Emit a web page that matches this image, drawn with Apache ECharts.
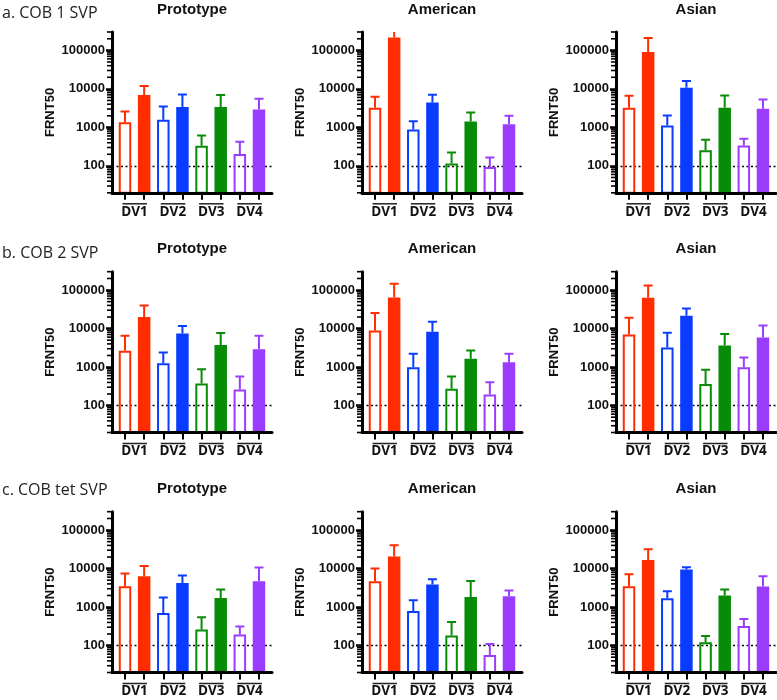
<!DOCTYPE html>
<html><head><meta charset="utf-8">
<script src="https://cdn.jsdelivr.net/npm/echarts@6/dist/echarts.min.js"></script>
<style>html,body{margin:0;padding:0;background:#fff}#c{width:777px;height:700px}</style>
</head><body><div id="c"></div>
<script>
// ---------- data ----------
const rowTitles = ['a. COB 1 SVP', 'b. COB 2 SVP', 'c. COB tet SVP'];
const colTitles = ['Prototype', 'American', 'Asian'];
const groupLabels = ['DV1', 'DV2', 'DV3', 'DV4'];
const yAxisName = 'FRNT50';
const yTickValues = [100, 1000, 10000, 100000];
const yMinorTickValues = [20,30,40,50,60,70,80,90,200,300,400,500,600,700,800,900,
  2000,3000,4000,5000,6000,7000,8000,9000,20000,30000,40000,50000,60000,70000,80000,90000,200000,300000];
const yMin = 20, yMax = 300000;
const thresholdValue = 100;
// bar order: DV1 hollow, DV1 filled, DV2 hollow, DV2 filled, ...
const cob1ProtoMean  = [1365, 6900, 1580, 3360, 332, 3360, 205, 2925];
const cob1ProtoUpper = [2590, 11800, 3500, 7190, 615, 6900, 422, 5560];
const cob1AmerMean   = [3240, 215000, 881, 4450, 115, 1425, 94, 1210];
const cob1AmerUpper  = [6270, 330000, 1450, 7060, 222, 2440, 164, 2000];
const cob1AsianMean  = [3240, 90800, 1120, 10700, 255, 3240, 338, 3050];
const cob1AsianUpper = [6650, 210000, 2040, 16000, 475, 6760, 505, 5330];
const cob2ProtoMean  = [2640, 19900, 1265, 7450, 373, 3720, 260, 2920];
const cob2ProtoUpper = [6480, 39800, 2390, 11600, 883, 7620, 567, 6480];
const cob2AmerMean   = [8900, 64200, 995, 8240, 272, 1640, 193, 1340];
const cob2AmerUpper  = [25200, 145000, 2210, 15000, 567, 2690, 405, 2210];
const cob2AsianMean  = [7010, 63000, 3220, 21500, 366, 3630, 995, 5860];
const cob2AsianUpper = [19000, 132000, 7760, 33200, 847, 7180, 1770, 12000];
const cobTetProtoMean  = [3480, 6320, 705, 4240, 260, 1730, 193, 4690];
const cobTetProtoUpper = [7410, 11700, 1765, 6580, 544, 2850, 312, 10600];
const cobTetAmerMean   = [4690, 20500, 795, 3840, 182, 1840, 57, 1910];
const cobTetAmerUpper  = [10000, 40400, 1500, 5280, 412, 4780, 110, 2680];
const cobTetAsianMean  = [3480, 16800, 1700, 9420, 122, 1990, 324, 3410];
const cobTetAsianUpper = [7130, 31800, 2580, 10800, 178, 2850, 493, 6320];

const panelMeans = [cob1ProtoMean, cob1AmerMean, cob1AsianMean, cob2ProtoMean, cob2AmerMean, cob2AsianMean, cobTetProtoMean, cobTetAmerMean, cobTetAsianMean];
const panelUppers = [cob1ProtoUpper, cob1AmerUpper, cob1AsianUpper, cob2ProtoUpper, cob2AmerUpper, cob2AsianUpper, cobTetProtoUpper, cobTetAmerUpper, cobTetAsianUpper];

// ---------- style / layout ----------
const colors = ['#FF2D00', '#0A3CFF', '#078C07', '#9A3DFF'];
const gridLeft = [112, 362, 616];
const gridTop = [32, 271.7, 511.7];
const rowLabelTop = [5, 245, 482];
const GW = 160, GH = 160.8;
const XMIN = -0.68, XMAX = 7.68;
const barSlots = [0,1,2,3,4,5,6,7];
const groupCenters = [0.5, 2.5, 4.5, 6.5];
const boldFont = 'Liberation Sans';

const option = { animation: false, backgroundColor: '#fff', title: [], grid: [], xAxis: [], yAxis: [], series: [] };

rowTitles.forEach((t, r) => {
  option.title.push({ text: t, left: 2, top: rowLabelTop[r], padding: 0,
    textStyle: { fontFamily: 'Open Sans', fontWeight: 'normal', fontSize: 16, color: '#222' } });
});

panelMeans.forEach((means, k) => {
  const r = Math.floor(k / 3), c = k % 3;
  const uppers = panelUppers[k];
  option.title.push({ text: colTitles[c], left: gridLeft[c] + GW / 2, top: gridTop[r] - 30, padding: 0, textAlign: 'center',
    textStyle: { fontFamily: boldFont, fontWeight: 'bold', fontSize: 15, color: '#111' } });
  option.grid.push({ left: gridLeft[c], top: gridTop[r], width: GW, height: GH, containLabel: false });
  const xi = option.xAxis.length, yi = option.yAxis.length;
  option.xAxis.push({ gridIndex: k, type: 'value', min: XMIN, max: XMAX, position: 'bottom', z: 3,
    axisLine: { onZero: false, lineStyle: { color: '#000', width: 3 } },
    axisTick: { customValues: barSlots, length: 7, lineStyle: { color: '#000', width: 2 } },
    axisLabel: { show: false }, splitLine: { show: false } });
  option.xAxis.push({ gridIndex: k, type: 'value', min: XMIN, max: XMAX, position: 'bottom',
    axisLine: { show: false, onZero: false }, axisTick: { show: false }, splitLine: { show: false },
    axisLabel: { customValues: groupCenters, margin: 12, formatter: v => groupLabels[Math.round((v - 0.5) / 2)],
      fontFamily: 'Open Sans', fontWeight: 'bold', fontSize: 13.5, color: '#111' } });
  option.yAxis.push({ gridIndex: k, type: 'log', logBase: 10, min: yMin, max: yMax, position: 'left', z: 3,
    name: yAxisName, nameLocation: 'middle', nameGap: 55, nameRotate: 90,
    nameTextStyle: { fontFamily: boldFont, fontWeight: 'bold', fontSize: 13, color: '#111' },
    axisLine: { onZero: false, lineStyle: { color: '#000', width: 3 } },
    axisTick: { customValues: yTickValues, length: 6, lineStyle: { color: '#000', width: 2.5 } },
    axisLabel: { customValues: yTickValues, margin: 7,
      formatter: v => (yTickValues.indexOf(Math.round(v)) >= 0 ? String(Math.round(v)) : ''),
      fontFamily: boldFont, fontWeight: 'bold', fontSize: 13, color: '#111' },
    splitLine: { show: false } });

  option.series.push({ type: 'bar', xAxisIndex: xi, yAxisIndex: yi, barWidth: 12.5, clip: true, z: 2, silent: true,
    data: means.map((v, i) => ({ value: [barSlots[i], v],
      itemStyle: i % 2 === 0
        ? { color: 'rgba(255,255,255,0)', borderColor: colors[Math.floor(i / 2)], borderWidth: 2 }
        : { color: colors[Math.floor(i / 2)] } })),
    markLine: { z: 1, silent: true, symbol: 'none', label: { show: false },
      lineStyle: { color: '#000', type: [2, 2.5], width: 1.4 }, data: [{ yAxis: thresholdValue }] } });

  // error bars (upper SD)
  option.series.push({ type: 'custom', xAxisIndex: xi, yAxisIndex: yi, clip: true, z: 3, silent: true,
    encode: { x: 0, y: [1, 2] },
    data: means.map((v, i) => [barSlots[i], v, uppers[i]]),
    renderItem: (params, api) => {
      const x = api.value(0);
      const p0 = api.coord([x, api.value(1)]);
      const p1 = api.coord([x, api.value(2)]);
      const col = colors[Math.floor(x / 2)];
      return { type: 'group', children: [
        { type: 'line', shape: { x1: p0[0], y1: p0[1], x2: p1[0], y2: p1[1] }, style: { stroke: col, lineWidth: 2 } },
        { type: 'line', shape: { x1: p1[0] - 4.5, y1: p1[1], x2: p1[0] + 4.5, y2: p1[1] }, style: { stroke: col, lineWidth: 2 } }
      ] };
    } });

  // minor log ticks on the y axis
  option.series.push({ type: 'custom', xAxisIndex: xi, yAxisIndex: yi, clip: false, silent: true, z: 4,
    encode: { x: 0, y: 1 },
    data: yMinorTickValues.map(v => [XMIN, v]),
    renderItem: (params, api) => {
      const p = api.coord([api.value(0), api.value(1)]);
      return { type: 'line', shape: { x1: p[0] - 5, y1: p[1], x2: p[0], y2: p[1] },
        style: { stroke: '#000', lineWidth: 1.6 } };
    } });

  // overline above each DV label
  option.series.push({ type: 'custom', xAxisIndex: xi, yAxisIndex: yi, clip: false, silent: true,
    encode: { x: 0, y: 1 },
    data: groupLabels.map((l, g) => [g * 2, yMin]),
    renderItem: (params, api) => {
      const g0 = api.value(0);
      const a = api.coord([g0 - 0.13, api.value(1)]);
      const b = api.coord([g0 + 1.15, api.value(1)]);
      return { type: 'line', shape: { x1: a[0], y1: a[1] + 11, x2: b[0], y2: b[1] + 11 },
        style: { stroke: '#222', lineWidth: 1.5 } };
    } });
});

const chart = echarts.init(document.getElementById('c'), null, { renderer: 'canvas' });
chart.setOption(option);
</script></body></html>
